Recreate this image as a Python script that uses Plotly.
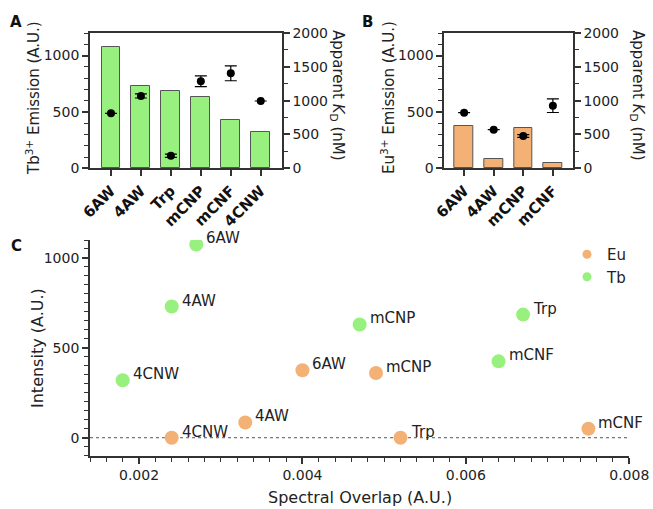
import plotly.graph_objects as go

# ---------------- data ----------------
tb_cats = ["6AW", "4AW", "Trp", "mCNP", "mCNF", "4CNW"]
tb_emission = [1075, 730, 685, 630, 425, 320]
tb_kd = [813, 1069, 186, 1286, 1404, 995]
tb_kd_err = [0, 30, 25, 80, 110, 0]

eu_cats = ["6AW", "4AW", "mCNP", "mCNF"]
eu_emission = [375, 85, 360, 50]
eu_kd = [822, 571, 478, 925]
eu_kd_err = [0, 0, 20, 100]

tb_labels = ["6AW", "4AW", "4CNW", "mCNP", "Trp", "mCNF"]
tb_overlap = [0.0027, 0.0024, 0.0018, 0.0047, 0.0067, 0.0064]
tb_intensity = [1075, 730, 320, 630, 685, 425]

eu_labels = ["4CNW", "4AW", "6AW", "mCNP", "Trp", "mCNF"]
eu_overlap = [0.0024, 0.0033, 0.0040, 0.0049, 0.0052, 0.0075]
eu_intensity = [0, 85, 375, 360, 0, 50]

# ---------------- style ----------------
W, H = 653, 509
GREEN = "#98F07E"
ORANGE = "#F4B176"
AX = "#333333"
FONT = "DejaVu Sans"

def px_x(p):
    return p / W

def px_y(p):
    return 1 - p / H

A_dom_x = [px_x(90), px_x(281.7)]
B_dom_x = [px_x(444.3), px_x(572.7)]
AB_dom_y = [px_y(168.3), px_y(33)]
C_dom_x = [px_x(90), px_x(629.3)]
C_dom_y = [px_y(455.7), px_y(240)]

fig = go.Figure()

# Panel A
fig.add_trace(go.Bar(x=tb_cats, y=tb_emission, marker=dict(color=GREEN, line=dict(color="#555555", width=1)),
                     width=0.63, xaxis="x", yaxis="y", showlegend=False))
fig.add_trace(go.Scatter(x=tb_cats, y=tb_kd, mode="markers",
                         marker=dict(color="black", size=8),
                         error_y=dict(type="data", array=tb_kd_err, color="black", thickness=1.2, width=6),
                         xaxis="x", yaxis="y2", showlegend=False))
# Panel B
fig.add_trace(go.Bar(x=eu_cats, y=eu_emission, marker=dict(color=ORANGE, line=dict(color="#555555", width=1)),
                     width=0.64, xaxis="x2", yaxis="y3", showlegend=False))
fig.add_trace(go.Scatter(x=eu_cats, y=eu_kd, mode="markers",
                         marker=dict(color="black", size=8),
                         error_y=dict(type="data", array=eu_kd_err, color="black", thickness=1.2, width=6),
                         xaxis="x2", yaxis="y4", showlegend=False))
# Panel C
fig.add_trace(go.Scatter(x=eu_overlap, y=eu_intensity, mode="markers", name="Eu", showlegend=False,
                         marker=dict(color=ORANGE, size=14), xaxis="x3", yaxis="y5"))
fig.add_trace(go.Scatter(x=tb_overlap, y=tb_intensity, mode="markers", name="Tb", showlegend=False,
                         marker=dict(color=GREEN, size=14), xaxis="x3", yaxis="y5"))
# legend entries (smaller symbols as in the reference)
fig.add_trace(go.Scatter(x=[None], y=[None], mode="markers", name="Eu",
                         marker=dict(color=ORANGE, size=9), xaxis="x3", yaxis="y5"))
fig.add_trace(go.Scatter(x=[None], y=[None], mode="markers", name="Tb",
                         marker=dict(color=GREEN, size=9), xaxis="x3", yaxis="y5"))

tickfont = dict(family=FONT, size=14, color="#222222")
boldtick = dict(family=FONT, size=15, color="#111111", weight="bold")

def yax(dom, anchor, rng, dtick, minor, side="left", overlaying=None):
    d = dict(domain=dom, anchor=anchor, range=rng, dtick=dtick, tick0=0, automargin=False,
             showline=True, linecolor=AX, linewidth=1.8, ticks="outside", ticklen=6,
             tickwidth=1.5, tickcolor=AX, showgrid=False, zeroline=False, side=side,
             tickfont=tickfont, fixedrange=True,
             minor=dict(dtick=minor, ticks="outside", ticklen=4, tickwidth=1.2, tickcolor=AX, showgrid=False))
    if overlaying:
        d["overlaying"] = overlaying
    return d

fig.update_layout(
    width=W, height=H,
    margin=dict(l=0, r=0, t=0, b=0, autoexpand=False),
    paper_bgcolor="white", plot_bgcolor="white",
    font=dict(family=FONT, size=14, color="#222222"),
    bargap=0,
    xaxis=dict(domain=A_dom_x, anchor="y", range=[-0.7, 5.7], showline=True, mirror=True, automargin=False,
               linecolor=AX, linewidth=1.8, ticks="outside", ticklen=6, tickwidth=1.5, tickcolor=AX,
               tickangle=-45, tickfont=boldtick, showgrid=False),
    yaxis=yax(AB_dom_y, "x", [0, 1200], 500, 100),
    yaxis2=yax(AB_dom_y, "x", [0, 2000], 500, 250, side="right", overlaying="y"),
    xaxis2=dict(domain=B_dom_x, anchor="y3", range=[-0.67, 3.67], showline=True, mirror=True, automargin=False,
                linecolor=AX, linewidth=1.8, ticks="outside", ticklen=6, tickwidth=1.5, tickcolor=AX,
                tickangle=-45, tickfont=boldtick, showgrid=False),
    yaxis3=yax(AB_dom_y, "x2", [0, 1200], 500, 100),
    yaxis4=yax(AB_dom_y, "x2", [0, 2000], 500, 250, side="right", overlaying="y3"),
    xaxis3=dict(domain=C_dom_x, anchor="y5", range=[0.0014, 0.008], dtick=0.002, tick0=0, automargin=False,
                tickformat=".3f", showline=True, linecolor=AX, linewidth=1.8, ticks="outside",
                ticklen=6, tickwidth=1.5, tickcolor=AX, showgrid=False, zeroline=False,
                tickfont=tickfont,
                minor=dict(dtick=0.0002, ticks="outside", ticklen=4, tickwidth=1.2, tickcolor=AX)),
    yaxis5=yax(C_dom_y, "x3", [-100, 1100], 500, 50),
    legend=dict(x=px_x(567), y=px_y(238), xanchor="left", yanchor="top",
                font=dict(family=FONT, size=15, color="#222222"),
                itemsizing="trace", tracegroupgap=0, bgcolor="rgba(0,0,0,0)",
                itemwidth=30),
)

fig.add_shape(type="line", xref="x3", yref="y5", x0=0.0014, x1=0.008, y0=0, y1=0,
              line=dict(color="#555555", width=1, dash="dot"), layer="below")

ann = []
# Point labels in C
for lab, x, y in zip(tb_labels, tb_overlap, tb_intensity):
    ann.append(dict(x=x, y=y, xref="x3", yref="y5", text=lab, showarrow=False,
                    xanchor="left", yanchor="middle", xshift=8, yshift=6,
                    font=dict(family=FONT, size=15, color="#222222")))
for lab, x, y in zip(eu_labels, eu_overlap, eu_intensity):
    ann.append(dict(x=x, y=y, xref="x3", yref="y5", text=lab, showarrow=False,
                    xanchor="left", yanchor="middle", xshift=8, yshift=6,
                    font=dict(family=FONT, size=15, color="#222222")))

tfont = dict(family=FONT, size=15, color="#222222")
# Axis titles
ann += [
    dict(x=px_x(33), y=px_y(98), xref="paper", yref="paper", text="Tb<sup>3+</sup> Emission (A.U.)",
         textangle=-90, showarrow=False, font=tfont, xanchor="center", yanchor="middle"),
    dict(x=px_x(337), y=px_y(95), xref="paper", yref="paper", text="Apparent <i>K</i><sub>D</sub> (nM)",
         textangle=90, showarrow=False, font=tfont, xanchor="center", yanchor="middle"),
    dict(x=px_x(388), y=px_y(98), xref="paper", yref="paper", text="Eu<sup>3+</sup> Emission (A.U.)",
         textangle=-90, showarrow=False, font=tfont, xanchor="center", yanchor="middle"),
    dict(x=px_x(637), y=px_y(95), xref="paper", yref="paper", text="Apparent <i>K</i><sub>D</sub> (nM)",
         textangle=90, showarrow=False, font=tfont, xanchor="center", yanchor="middle"),
    dict(x=px_x(37), y=px_y(348), xref="paper", yref="paper", text="Intensity (A.U.)",
         textangle=-90, showarrow=False, font=dict(family=FONT, size=16, color="#222222"),
         xanchor="center", yanchor="middle"),
    dict(x=px_x(360), y=px_y(497), xref="paper", yref="paper", text="Spectral Overlap (A.U.)",
         showarrow=False, font=dict(family=FONT, size=16, color="#222222"),
         xanchor="center", yanchor="middle"),
]
# Panel letters
for letter, x, y in [("A", 16, 22), ("B", 367, 22), ("C", 16, 246)]:
    ann.append(dict(x=px_x(x), y=px_y(y), xref="paper", yref="paper", text="<b>%s</b>" % letter,
                    showarrow=False, font=dict(family=FONT, size=15, color="#111111"),
                    xanchor="center", yanchor="middle"))
fig.update_layout(annotations=ann)

fig.write_html("out.html", config={"displayModeBar": False},
               post_script="document.body.style.margin='0';document.body.style.overflow='hidden';")
